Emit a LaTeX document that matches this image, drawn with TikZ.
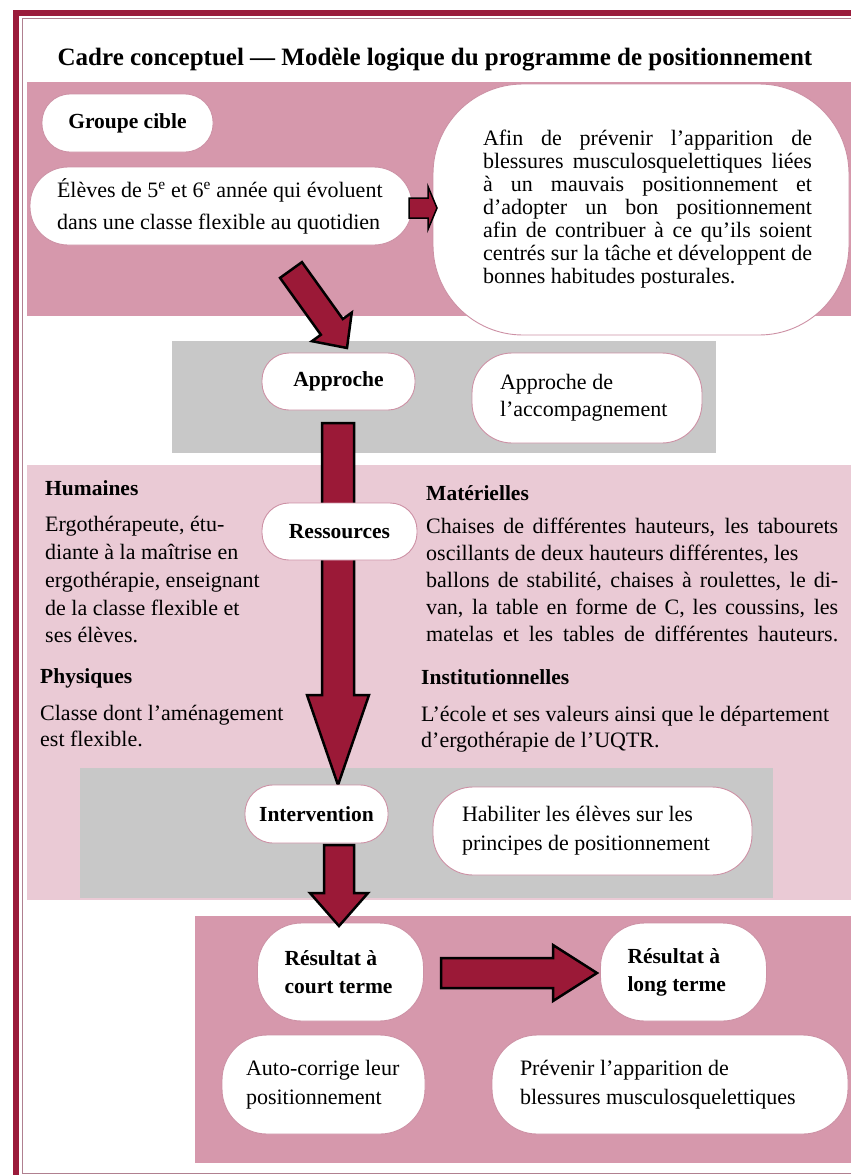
\documentclass[tikz,border=0pt]{standalone}
\usepackage{fontspec}
\setmainfont{Liberation Serif}
\usetikzlibrary{calc}
\definecolor{framered}{RGB}{155,27,59}
\definecolor{arrowred}{RGB}{155,25,55}
\definecolor{pinkdark}{RGB}{214,152,172}
\definecolor{pinklight}{RGB}{234,202,213}
\definecolor{greyband}{RGB}{200,200,200}
\definecolor{boxborder}{RGB}{205,145,165}
\definecolor{thinline}{RGB}{176,128,144}
\tikzset{
  pill/.style={draw=boxborder, line width=0.9pt, fill=white, rounded corners=#1, inner sep=0pt},
  body/.style={font=\fontsize{22}{27.8}\selectfont},
  bold/.style={font=\bfseries\fontsize{21.5}{27}\selectfont},
  label/.style={anchor=base west, inner sep=0pt, bold},
  barrow/.style={fill=arrowred, draw=black, line width=2.5pt, line join=miter}
}
\newcommand\ns{\spaceskip=0pt\xspaceskip=0pt\relax}
\newcommand\sline[2]{\makebox[#1][s]{\ns #2}}
\newcommand\blockarrow[6][]{%
  \coordinate (bh) at ($(#3)!#6!(#2)$);
  \draw[barrow,#1] ($(#2)!#4!90:(#3)$) -- ($(bh)!#4!90:(#3)$) -- ($(bh)!#5!90:(#3)$) -- (#3)
    -- ($(bh)!#5!-90:(#3)$) -- ($(bh)!#4!-90:(#3)$) -- ($(#2)!#4!-90:(#3)$) -- cycle;}
\begin{document}
\begin{tikzpicture}[x=1pt,y=-1pt]
\useasboundingbox (0,0) rectangle (851,1175);
\fill[white] (0,0) rectangle (851,1175);
% frame
\draw[framered, line width=6pt] (16,1175) -- (16,12.5) -- (851,12.5);
\draw[thinline, line width=1pt] (851,18.5) -- (22.5,18.5) -- (22.5,1173) -- (851,1173);
% title
\node[anchor=base, font=\bfseries\fontsize{25}{30}\selectfont] (title) at (435,65.5)
  {Cadre conceptuel — Modèle logique du programme de positionnement};
% bands
\fill[pinkdark] (27,82) rectangle (851,316);
\fill[greyband] (172,341) rectangle (716,453);
\fill[pinklight] (27,465) rectangle (851,900);
\fill[greyband] (80,768) rectangle (773,898);
\fill[pinkdark] (195,916) rectangle (851,1163);
% long arrow behind Ressources
\coordinate (a2s) at (338,423);
\coordinate (a2e) at (338,785);
\blockarrow{a2s}{a2e}{16pt}{31pt}{90pt}
% top boxes
\node[pill=28, minimum width=171, minimum height=58, bold] (groupe) at (127.5,123) {Groupe cible};
\node[pill=38, minimum height=78, inner xsep=27, text width=328, align=left, font=\fontsize{22}{32}\selectfont] (eleves) at (221,206)
  {\ns Élèves de 5\textsuperscript{e} et 6\textsuperscript{e} année qui évoluent\\dans une classe flexible au quotidien};
\node[pill=90, minimum width=416, minimum height=251, text width=342, align=left, font=\fontsize{22}{23}\selectfont] (afin) at (641,209.5)
  {\hspace*{13pt}\sline{329pt}{Afin de prévenir l’apparition de}\\
   \hspace*{13pt}\sline{329pt}{blessures musculosquelettiques liées}\\
   \hspace*{13pt}\sline{329pt}{à un mauvais positionnement et}\\
   \hspace*{13pt}\sline{329pt}{d’adopter un bon positionnement}\\
   \hspace*{13pt}\sline{329pt}{afin de contribuer à ce qu’ils soient}\\
   \hspace*{13pt}\sline{329pt}{centrés sur la tâche et développent de}\\
   \hspace*{13pt}{\ns bonnes habitudes posturales.}};
% approche
\node[pill=27, minimum width=153, minimum height=57, bold] (approche) at (338.5,381.5) {Approche};
\node[pill=40, minimum height=90, inner xsep=28, text width=174, align=left, font=\fontsize{22}{27}\selectfont] (approchede) at (587,398)
  {\ns Approche de\\l’accompagnement};
% resources
\node[pill=27, minimum width=155, minimum height=57, bold] (ressources) at (339.5,531.5) {Ressources};
\node[label] (humaines) at (45,495) {Humaines};
\node[anchor=base west, text width=230, align=left, body, inner sep=0pt] (humainestxt) at (45,531.7)
  {\ns Ergothérapeute, étu-\\diante à la maîtrise en\\ergothérapie, enseignant\\de la classe flexible et\\ses élèves.};
\node[label] (physiques) at (40,683) {Physiques};
\node[anchor=base west, text width=260, align=left, font=\fontsize{22}{26.7}\selectfont, inner sep=0pt] (physiquestxt) at (40,720)
  {\ns Classe dont l’aménagement\\est flexible.};
\node[label] (materielles) at (426,500) {Matérielles};
\node[anchor=base west, text width=412, align=left, font=\fontsize{22}{27}\selectfont, inner sep=0pt] (materiellestxt) at (426,533)
  {\sline{\linewidth}{Chaises de différentes hauteurs, les tabourets}\\
   {\ns oscillants de deux hauteurs différentes, les}\\
   \sline{\linewidth}{ballons de stabilité, chaises à roulettes, le di-}\\
   \sline{\linewidth}{van, la table en forme de C, les coussins, les}\\
   \sline{\linewidth}{matelas et les tables de différentes hauteurs.}};
\node[label] (institution) at (421,684) {Institutionnelles};
\node[anchor=base west, text width=425, align=left, font=\fontsize{22}{26.7}\selectfont, inner sep=0pt] (institutiontxt) at (421,721)
  {\ns L’école et ses valeurs ainsi que le département\\d’ergothérapie de l’UQTR.};
% intervention
\node[pill=28, minimum width=143, minimum height=58, bold] (intervention) at (316.5,814) {Intervention};
\node[pill=40, minimum height=88, inner xsep=29, text width=261, align=left, font=\fontsize{22}{29}\selectfont] (habiliter) at (592.5,831)
  {\ns Habiliter les élèves sur les\\principes de positionnement};
% results
\node[pill=44, minimum height=98, inner xsep=27, text width=112, align=left, font=\bfseries\fontsize{21.5}{28}\selectfont] (court) at (340.5,972)
  {\ns Résultat à\\court terme};
\node[pill=44, minimum height=98, inner xsep=27, text width=112, align=left, font=\bfseries\fontsize{21.5}{28}\selectfont] (long) at (683.5,972)
  {\ns Résultat à\\long terme};
\node[pill=45, minimum height=99, inner xsep=24, text width=155, align=left, font=\fontsize{22}{29}\selectfont] (auto) at (323.5,1084.5)
  {\ns Auto-corrige leur\\positionnement};
\node[pill=45, minimum height=99, inner xsep=28, text width=300, align=left, font=\fontsize{22}{29}\selectfont] (prevenir) at (670,1084.5)
  {\ns Prévenir l’apparition de\\blessures musculosquelettiques};
% arrows
\coordinate (a0s) at (291,270);
\coordinate (a0e) at (347,348);
\blockarrow{a0s}{a0e}{13.5pt}{24.5pt}{26pt}
\coordinate (a1s) at (409,208);
\coordinate (a1e) at (437,208);
\blockarrow[line width=1.5pt]{a1s}{a1e}{10pt}{21.5pt}{9pt}
\coordinate (a3s) at (339,845);
\coordinate (a3e) at (339,926);
\blockarrow{a3s}{a3e}{15pt}{29pt}{33pt}
\coordinate (a4s) at (441,973);
\coordinate (a4e) at (597,973);
\blockarrow{a4s}{a4e}{15pt}{28pt}{44pt}
\end{tikzpicture}
\end{document}
